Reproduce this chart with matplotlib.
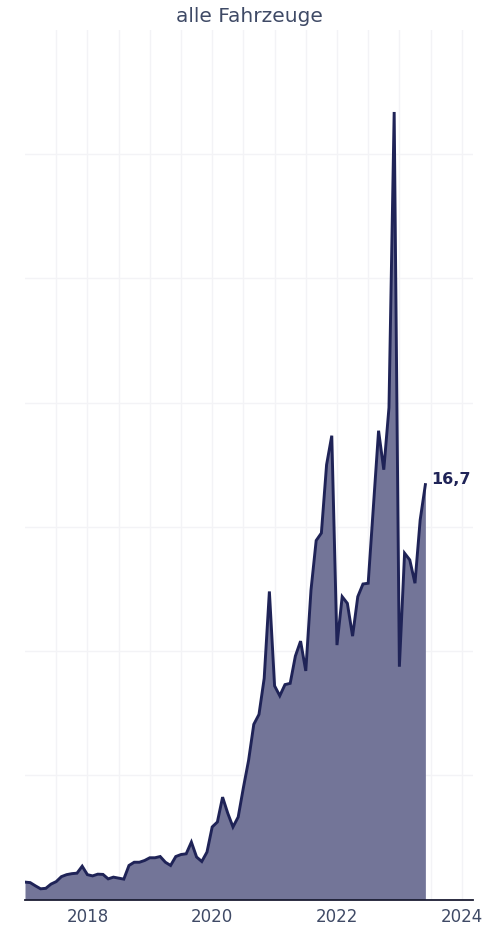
import numpy as np
import matplotlib
matplotlib.use("Agg")
import matplotlib.pyplot as plt

# monthly values, Jan 2017 .. Jun 2023
start_year = 2017
values = [
    0.70, 0.68, 0.55, 0.43, 0.45, 0.62, 0.72, 0.92, 1.00, 1.04, 1.06, 1.34,
    1.00, 0.95, 1.02, 1.01, 0.83, 0.90, 0.86, 0.82, 1.37, 1.50, 1.50, 1.57,
    1.68, 1.68, 1.73, 1.50, 1.37, 1.73, 1.81, 1.84, 2.31, 1.71, 1.53, 1.91,
    2.92, 3.12, 4.12, 3.47, 2.92, 3.32, 4.50, 5.60, 7.05, 7.45, 8.90, 12.40,
    8.60, 8.20, 8.65, 8.70, 9.80, 10.40, 9.20, 12.45, 14.45, 14.75, 17.50, 18.67,
    10.24, 12.19, 11.92, 10.60, 12.19, 12.70, 12.73, 15.80, 18.87, 17.30, 19.80, 31.70,
    9.37, 13.94, 13.67, 12.73, 15.28, 16.70,
]
year_ticks = [2018, 2020, 2022, 2024]
title = "alle Fahrzeuge"
last_label = "16,7"

line_col = "#1f2357"
fill_col = "#737598"
grid_col = "#f3f3f6"
text_col = "#3f4a66"

x = start_year + np.arange(len(values)) / 12.0
y = np.array(values)

plt.rcParams['font.family'] = ['DejaVu Sans']

fig = plt.figure(figsize=(5.04, 9.26), dpi=100)
ax = fig.add_axes([25 / 504, 1 - 899.5 / 926, 448 / 504, 869.5 / 926])

ax.fill_between(x, 0, y, color=fill_col, linewidth=0, zorder=2)
ax.plot(x, y, color=line_col, linewidth=2.1, solid_joinstyle='miter', zorder=3)

ax.set_xlim(start_year, 2024.18)
ax.set_ylim(0, 35)

# light grid: every 5 units, every half year
for g in np.arange(5, 35, 5):
    ax.axhline(g, color=grid_col, linewidth=1.0, zorder=1)
for g in np.arange(2017.5, 2024.1, 0.5):
    ax.axvline(g, color=grid_col, linewidth=1.0, zorder=1)

ax.set_xticks(year_ticks)
ax.set_xticklabels([str(t) for t in year_ticks])
ax.tick_params(axis='x', length=0, pad=6, labelsize=12, labelcolor=text_col)
ax.set_yticks([])

for s in ['top', 'right', 'left']:
    ax.spines[s].set_visible(False)
ax.spines['bottom'].set_color('#1b1d33')
ax.spines['bottom'].set_linewidth(1.3)
ax.spines['bottom'].set_zorder(4)

ax.annotate(last_label, xy=(x[-1], y[-1]), xytext=(4, 3.5), textcoords='offset points',
            ha='left', va='center', fontsize=11.5, fontweight='bold', color=line_col)

fig.text((25 + 224) / 504, 1 - 17 / 926, title, ha='center', va='center',
         fontsize=14.5, color=text_col)

fig.savefig("out.png", dpi=100)
